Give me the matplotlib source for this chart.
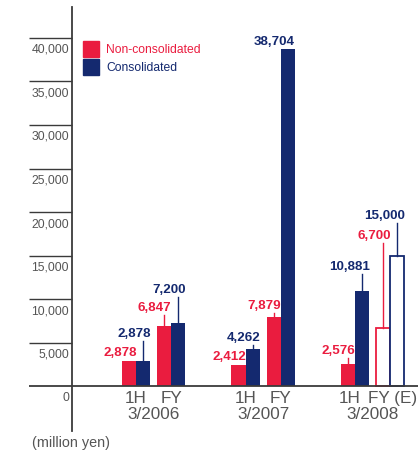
import matplotlib.pyplot as plt
import matplotlib.transforms as mtransforms
from matplotlib.patches import Rectangle

# net income, million yen
periods = ['3/2006', '3/2007', '3/2008']
halves = ['1H', 'FY']
non_consolidated = [[2878, 6847], [2412, 7879], [2576, 6700]]
consolidated = [[2878, 7200], [4262, 38704], [10881, 15000]]
estimate = [[False, False], [False, False], [False, True]]

# where the value labels sit (label baseline height in yen)
red_label_y = [[3218, 8391], [2759, 8621], [3448, 16667]]
blue_label_y = [[5402, 10460], [4943, 38966], [13103, 18966]]

yticks = [0, 5000, 10000, 15000, 20000, 25000, 30000, 35000, 40000]

RED = '#ea1c3f'
BLUE = '#14296f'
GREY = '#555555'
LINE = '#3a3a3a'

font = ['Liberation Sans', 'DejaVu Sans']

fig = plt.figure(figsize=(4.18, 4.52), dpi=100)
W, H = 418, 452
ax = fig.add_axes([72 / W, 20 / H, (W - 72) / W, 424 / H])

w = 0.128
gap = 0.32
ax.set_xlim(-0.5845, 2.5753)
ax.set_ylim(-5172, 43563)

for s in ['top', 'right', 'bottom']:
    ax.spines[s].set_visible(False)
ax.spines['left'].set_color(LINE)
ax.spines['left'].set_linewidth(1.3)
ax.set_xticks([])
ax.set_yticks([])

blend = mtransforms.blended_transform_factory(ax.transAxes, ax.transData)
left_ext = -(72 - 29) / (W - 72)

# horizontal tick rules left of the axis, and the zero line across
for v in yticks:
    x1 = 1.0 if v == 0 else 0.0
    ax.plot([left_ext, x1], [v, v], color=LINE, lw=1.3 if v == 0 else 1.0,
            transform=blend, clip_on=False, solid_capstyle='butt')
    ax.annotate(f'{v:,}', xy=(0, v), xycoords=blend, xytext=(-3, -5),
                textcoords='offset pixels', ha='right', va='top',
                fontsize=8.8, color=GREY, family=font)

for g, period in enumerate(periods):
    has_est = any(estimate[g])
    for h, half in enumerate(halves):
        c = g + h * gap
        for val, ly, col, x in [(non_consolidated[g][h], red_label_y[g][h], RED, c - w / 2),
                                 (consolidated[g][h], blue_label_y[g][h], BLUE, c + w / 2)]:
            if estimate[g][h]:
                ax.bar(x, val, w, facecolor='white', edgecolor=col, linewidth=1.3)
            else:
                ax.bar(x, val, w, color=col, linewidth=0)
            if ly - val > 600:
                ax.plot([x, x], [val, ly - 250], color=col, lw=1.0)
            ax.text(x + w / 2 + 0.005, ly, f'{val:,}', ha='right', va='bottom',
                    fontsize=9.6, fontweight='bold', color=col, family=font)
        if estimate[g][h]:
            name, dx = half + ' (E)', 3
        else:
            name, dx = half, (-5 if has_est else 0)
        ax.annotate(name, xy=(c, 0), xytext=(dx, -4), textcoords='offset pixels',
                    ha='center', va='top', fontsize=12.3, color=GREY, family=font)
    ax.annotate(period, xy=(g + gap / 2, 0), xytext=(0, -20), textcoords='offset pixels',
                ha='center', va='top', fontsize=12.3, color=GREY, family=font)

# legend
for i, (lab, col) in enumerate([('Non-consolidated', RED), ('Consolidated', BLUE)]):
    y0 = H - 42 - 18 * i
    fig.patches.append(Rectangle((83 / W, (y0 - 16) / H), 16 / W, 16 / H,
                                 transform=fig.transFigure, color=col))
    fig.text(106 / W, (y0 - 8) / H, lab, ha='left', va='center',
             fontsize=8.7, color=col, family=font)

fig.text(32 / W, (H - 443) / H, '(million yen)', ha='left', va='center',
         fontsize=10.4, color=GREY, family=font)

fig.savefig('out.png', dpi=100)
